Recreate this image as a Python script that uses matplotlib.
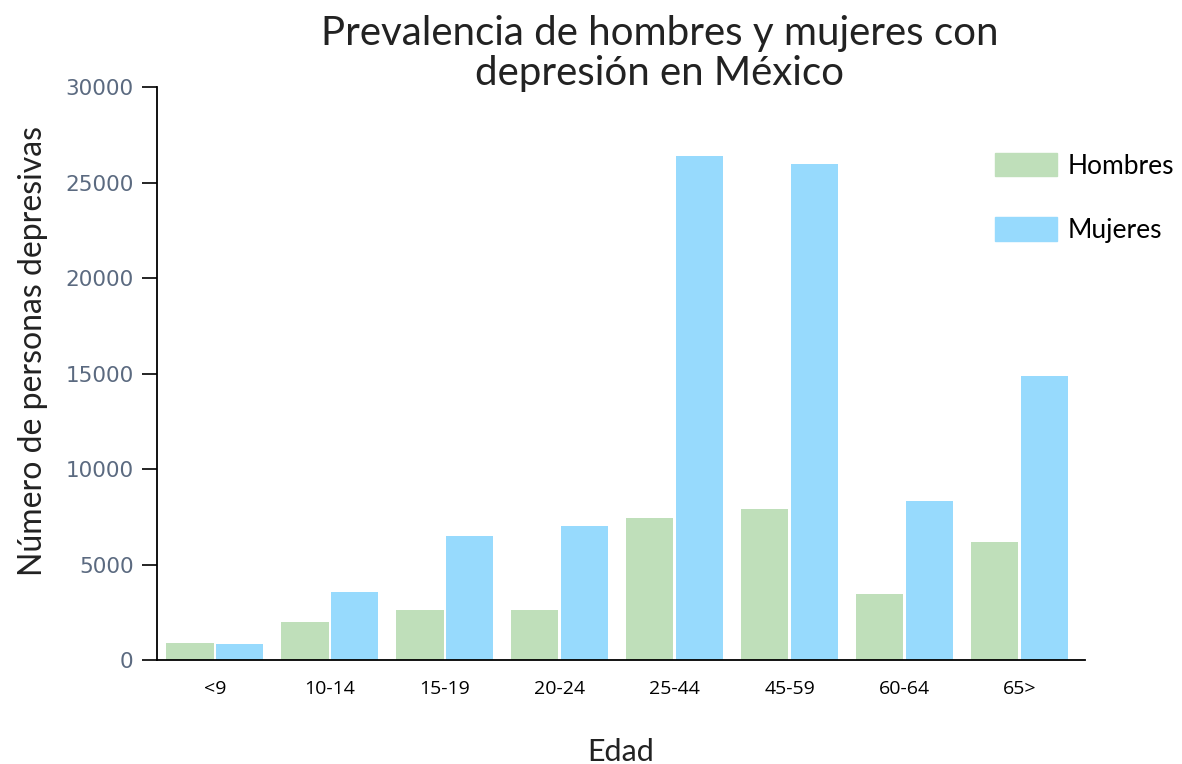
import numpy as np
import matplotlib.pyplot as plt
from matplotlib.patches import Patch

# grupos de edad y casos por sexo
edades = ["<9", "10-14", "15-19", "20-24", "25-44", "45-59", "60-64", "65>"]
hombres = [900, 2000, 2600, 2600, 7450, 7900, 3450, 6200]
mujeres = [850, 3550, 6500, 7000, 26400, 25950, 8350, 14900]

verde = "#bfdfba"
azul = "#97dafd"

fig = plt.figure(figsize=(11.82, 7.64), dpi=100)
ax = fig.add_axes([0.133, 0.136, 0.785, 0.750])

x = np.arange(len(edades))
w = 0.41
ax.bar(x - w / 2 - 0.01, hombres, w, color=verde, edgecolor="none")
ax.bar(x + w / 2 + 0.01, mujeres, w, color=azul, edgecolor="none")

ax.set_xlim(-0.5, 7.57)
ax.set_ylim(0, 30000)
ax.set_yticks(range(0, 30001, 5000))
ax.set_xticks(x)
ax.set_xticklabels(edades, fontsize=14, family="Open Sans")
ax.tick_params(axis="x", length=0, pad=14)
ax.tick_params(axis="y", length=11, width=1.2, labelsize=15.5,
               labelcolor="#5b6a80", pad=6)

for s in ["top", "right"]:
    ax.spines[s].set_visible(False)
for s in ["left", "bottom"]:
    ax.spines[s].set_linewidth(1.3)

ax.set_ylabel("Número de personas depresivas", fontsize=23, family="Lato",
              color="#222222")
ax.yaxis.set_label_coords(-0.118, 0.54)
ax.set_xlabel("Edad", fontsize=22, family="Lato", color="#222222", labelpad=29)

fig.text(0.558, 0.93, "Prevalencia de hombres y mujeres con\ndepresión en México",
         ha="center", va="center", fontsize=29, family="Lato",
         color="#222222", linespacing=1.1)

handles = [Patch(color=verde, label="Hombres"), Patch(color=azul, label="Mujeres")]
fig.legend(handles=handles, loc="upper left", bbox_to_anchor=(0.842, 0.800),
           bbox_transform=fig.transFigure, frameon=False, borderpad=0,
           borderaxespad=0, handlelength=2.35, handleheight=1.0,
           labelspacing=1.45, handletextpad=0.4,
           prop={"family": "Lato", "size": 19})

fig.savefig("out.png", dpi=100)
